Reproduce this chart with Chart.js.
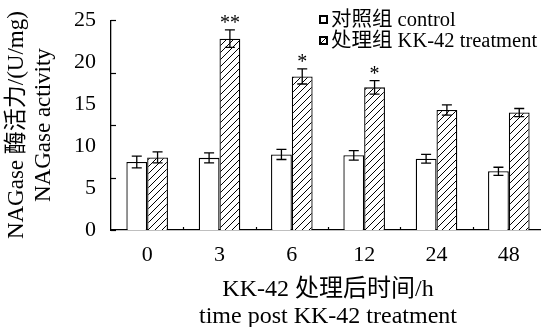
<!DOCTYPE html>
<html>
<head>
<meta charset="utf-8">
<script src="https://cdn.jsdelivr.net/npm/chart.js@4.4.1/dist/chart.umd.min.js"></script>
<style>
  html, body { margin: 0; padding: 0; background: #fff; overflow: hidden; }
  #chart { display: block; }
</style>
</head>
<body>
<canvas id="chart" width="545" height="327"></canvas>
<script>
// data
const timePoints = ['0', '3', '6', '12', '24', '48'];
const controlMean = [8.1, 8.6, 9.0, 8.9, 8.5, 7.0];
const controlErr = [0.7, 0.6, 0.6, 0.57, 0.52, 0.48];
const treatMean = [8.65, 22.8, 18.3, 17.0, 14.3, 14.0];
const treatErr = [0.65, 1.05, 0.9, 0.8, 0.62, 0.48];
const treatSignif = ['', '**', '*', '*', '', ''];
const yLabels = [0, 5, 10, 15, 20, 25];
// tick marks on the y axis do not line up with the labels in the original
const yTickMarks = [0, 6.25, 12.5, 18.75, 25];

const serif = "'Liberation Serif', 'Noto Sans CJK SC', serif";
Chart.defaults.color = '#000';
Chart.defaults.font.family = serif;

function makeHatch() {
    const c = document.createElement('canvas');
    c.width = 7; c.height = 7;
    const g = c.getContext('2d');
    g.fillStyle = '#fff';
    g.fillRect(0, 0, 7, 7);
    g.strokeStyle = '#000';
    g.lineWidth = 1;
    [-7, 0, 7].forEach(dx => {
        g.beginPath();
        g.moveTo(dx, 7);
        g.lineTo(dx + 7, 0);
        g.stroke();
    });
    return g.createPattern(c, 'repeat');
}
const hatch = makeHatch();

// error bars, asterisks, inward tick marks and the legend
const decorations = {
    id: 'decorations',
    afterDatasetsDraw(chart) {
        const ctx = chart.ctx;
        const x = chart.scales.x, y = chart.scales.y;
        const area = chart.chartArea;
        ctx.save();
        ctx.strokeStyle = '#000';
        ctx.lineWidth = 1.3;

        chart.data.datasets.forEach((ds, di) => {
            const meta = chart.getDatasetMeta(di);
            meta.data.forEach((bar, i) => {
                const top = y.getPixelForValue(ds.data[i] + ds.errors[i]);
                const bot = y.getPixelForValue(ds.data[i] - ds.errors[i]);
                ctx.beginPath();
                ctx.moveTo(bar.x, top); ctx.lineTo(bar.x, bot);
                ctx.moveTo(bar.x - 5, top); ctx.lineTo(bar.x + 5, top);
                ctx.moveTo(bar.x - 5, bot); ctx.lineTo(bar.x + 5, bot);
                ctx.stroke();
                if (ds.signif && ds.signif[i]) {
                    ctx.fillStyle = '#000';
                    ctx.font = '20px ' + serif;
                    ctx.textAlign = 'center';
                    ctx.textBaseline = 'alphabetic';
                    ctx.fillText(ds.signif[i], bar.x, top - 1);
                }
            });
        });

        // y tick marks pointing inward
        ctx.lineWidth = 1.2;
        yTickMarks.forEach(v => {
            const py = Math.round(y.getPixelForValue(v)) + 0.5;
            ctx.beginPath();
            ctx.moveTo(area.left, py);
            ctx.lineTo(area.left + 5, py);
            ctx.stroke();
        });
        // x tick marks between categories, pointing inward
        for (let i = 0; i < timePoints.length - 1; i++) {
            const px = Math.round((x.getPixelForValue(i) + x.getPixelForValue(i + 1)) / 2) + 0.5;
            ctx.beginPath();
            ctx.moveTo(px, area.bottom);
            ctx.lineTo(px, area.bottom - 3);
            ctx.stroke();
        }

        // legend
        ctx.font = '20.5px ' + serif;
        ctx.textAlign = 'left';
        ctx.textBaseline = 'middle';
        chart.data.datasets.forEach((ds, di) => {
            const cy = 19.5 + di * 21;
            ctx.fillStyle = ds.backgroundColor;
            ctx.fillRect(320, cy - 3.5, 7, 7);
            ctx.lineWidth = 2;
            ctx.strokeRect(320, cy - 3.5, 7, 7);
            ctx.fillStyle = '#000';
            ctx.fillText(ds.label, 331, cy + 1);
        });
        ctx.restore();
    }
};

new Chart(document.getElementById('chart'), {
    type: 'bar',
    data: {
        labels: timePoints,
        datasets: [{
            label: '对照组 control',
            data: controlMean,
            errors: controlErr,
            backgroundColor: '#fff',
            borderColor: '#000',
            borderWidth: 1.3
        }, {
            label: '处理组 KK-42 treatment',
            data: treatMean,
            errors: treatErr,
            signif: treatSignif,
            backgroundColor: hatch,
            borderColor: '#000',
            borderWidth: 1.3
        }]
    },
    options: {
        responsive: false,
        devicePixelRatio: 1,
        animation: false,
        categoryPercentage: 0.575,
        barPercentage: 1,
        layout: { padding: { top: 20, right: 0, left: 0, bottom: 0 } },
        scales: {
            x: {
                grid: { display: false },
                border: { color: '#000', width: 1.3 },
                ticks: { font: { size: 22 }, padding: 4 },
                title: {
                    display: true,
                    text: ['KK-42 处理后时间/h', 'time post KK-42 treatment'],
                    font: { size: 24, lineHeight: 1.12 },
                    padding: { top: 0, bottom: -3 }
                },
                afterFit: scale => { scale.height = 97; }
            },
            y: {
                min: 0,
                max: 25,
                grid: { display: false },
                border: { color: '#000', width: 1.3 },
                afterBuildTicks: scale => {
                    scale.ticks = yLabels.map(v => ({ value: v }));
                },
                ticks: { font: { size: 22 }, padding: 7 },
                title: {
                    display: true,
                    text: ['NAGase 酶活力/(U/mg)', 'NAGase activity'],
                    font: { size: 23, lineHeight: 1.15 },
                    padding: { top: 4, bottom: 0 }
                },
                afterFit: scale => { scale.width = 111; }
            }
        },
        plugins: {
            legend: { display: false },
            tooltip: { enabled: false }
        }
    },
    plugins: [decorations]
});
</script>
</body>
</html>
